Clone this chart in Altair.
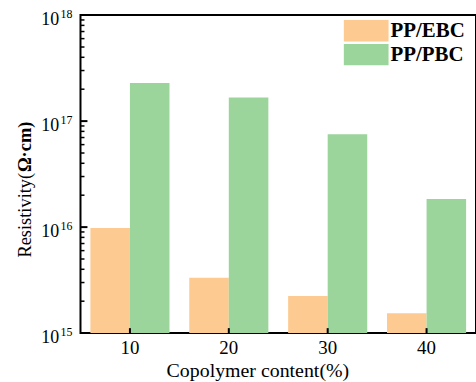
import altair as alt
import pandas as pd

# ---- data ----
contents = [10, 20, 30, 40]
series = ["PP/EBC", "PP/PBC"]
ebc_values = [9.8e15, 3.33e15, 2.24e15, 1.54e15]
pbc_values = [2.29e17, 1.67e17, 7.5e16, 1.84e16]
colors = ["#FDCB92", "#9BD59B"]
major_ticks = [1e15, 1e16, 1e17, 1e18]
exponents = ["15", "16", "17", "18"]
inner_major = [1e16, 1e17]
minor_ticks = [k * 10.0 ** e for e in (15, 16, 17) for k in range(2, 10)]

SERIF = "Liberation Serif"
W, H = 398, 320

df = pd.DataFrame({
    "content": contents * 2,
    "series": [s for s in series for _ in contents],
    "value": ebc_values + pbc_values,
})

yscale = alt.Scale(type="log", domain=[1e15, 1e18], nice=False)
xscale = alt.Scale(paddingInner=0.2, paddingOuter=0.1)
cscale = alt.Scale(domain=series, range=colors)

y_axis = alt.Axis(values=major_ticks, labelExpr="'10'", ticks=False, tickSize=0,
                  domain=False, grid=False, labelPadding=22, labelFontSize=18,
                  labelFont=SERIF, labelColor="black", labelOffset=4,
                  labelBaseline="middle", title=None)
x_axis = alt.Axis(labelAngle=0, ticks=False, tickSize=0, domain=False, grid=False,
                  labelPadding=6, labelFontSize=19, labelFont=SERIF, labelColor="black",
                  title="Copolymer content(%)", titleFont=SERIF, titleFontSize=20,
                  titleFontWeight="normal", titleColor="black", titleX=178, titleY=38,
                  titleBaseline="middle")

bars = alt.Chart(df).mark_bar().encode(
    x=alt.X("content:O", scale=xscale, axis=x_axis),
    xOffset=alt.XOffset("series:N", sort=series, scale=alt.Scale(paddingInner=0, paddingOuter=0)),
    y=alt.Y("value:Q", scale=yscale, stack=None, axis=y_axis),
    color=alt.Color("series:N", scale=cscale, legend=None),
)

# exponents of y labels
exp_layer = alt.Chart(pd.DataFrame({"v": major_ticks, "e": exponents})).mark_text(
    align="left", baseline="middle", fontSize=12, font=SERIF, color="black", dy=-1
).encode(y=alt.Y("v:Q", scale=yscale, axis=y_axis), x=alt.value(-20), text="e:N")

# inward ticks
minor_layer = alt.Chart(pd.DataFrame({"v": minor_ticks})).mark_rule(
    color="black", strokeWidth=1.5
).encode(y=alt.Y("v:Q", scale=yscale, axis=y_axis), x=alt.value(0), x2=alt.value(4))
major_layer = alt.Chart(pd.DataFrame({"v": inner_major})).mark_rule(
    color="black", strokeWidth=2
).encode(y=alt.Y("v:Q", scale=yscale, axis=y_axis), x=alt.value(0), x2=alt.value(7))
xtick_layer = alt.Chart(pd.DataFrame({"content": contents})).mark_rule(
    color="black", strokeWidth=2
).encode(x=alt.X("content:O", scale=xscale, axis=x_axis), y=alt.value(H), y2=alt.value(H - 5))

# y title (mixed weight)
ytitle1 = alt.Chart(pd.DataFrame({"t": ["Resistivity("]})).mark_text(
    angle=270, align="left", baseline="middle", fontSize=18.5, font=SERIF, color="black"
).encode(x=alt.value(-56), y=alt.value(244), text="t:N")
ytitle2 = alt.Chart(pd.DataFrame({"t": ["Ω·cm)"]})).mark_text(
    angle=270, align="left", baseline="middle", fontSize=18.5, font=SERIF,
    fontWeight="bold", color="black"
).encode(x=alt.value(-56), y=alt.value(158), text="t:N")

# legend
legend_layers = []
for i, s in enumerate(series):
    ldf = pd.DataFrame({"series": [s]})
    legend_layers.append(alt.Chart(ldf).mark_rect().encode(
        x=alt.value(265), x2=alt.value(310),
        y=alt.value(5 + 24 * i), y2=alt.value(26.5 + 24 * i),
        color=alt.Color("series:N", scale=cscale, legend=None)))
    legend_layers.append(alt.Chart(ldf).mark_text(
        align="left", baseline="middle", fontSize=21, fontWeight="bold",
        font=SERIF, color="black").encode(
        x=alt.value(312), y=alt.value(16.5 + 24 * i), text="series:N"))

chart = alt.layer(
    bars, exp_layer, minor_layer, major_layer, xtick_layer, ytitle1, ytitle2, *legend_layers
).properties(
    width=W, height=H,
    padding={"left": 81, "top": 14, "right": 0, "bottom": 48},
    autosize=alt.AutoSizeParams(type="none"),
    background="white",
).configure_view(stroke="black", strokeWidth=2)

chart.save("out.html", embed_options={"renderer": "svg", "actions": False})
